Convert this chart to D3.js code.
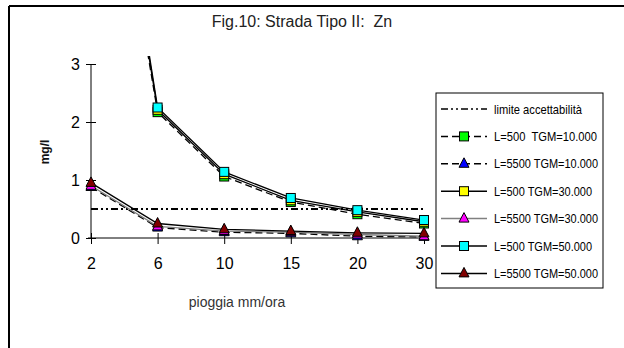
<!DOCTYPE html>
<html>
<head>
<meta charset="utf-8">
<script src="https://cdn.jsdelivr.net/npm/d3@7"></script>
<style>
  body { margin: 0; background: #fff; }
  svg { display: block; }
  text { font-family: "Liberation Sans", Arial, sans-serif; white-space: pre; }
</style>
</head>
<body>
<svg id="chart" width="624" height="348"></svg>
<script>
// rain intensity categories (mm/ora)
var categories = ["2", "6", "10", "15", "20", "30"];
var yTicks = [0, 1, 2, 3];

var limite = [0.5, 0.5, 0.5, 0.5, 0.5, 0.5];
var l500_10 = [9.0, 2.17, 1.06, 0.62, 0.41, 0.25];
var l5500_10 = [0.88, 0.18, 0.10, 0.08, 0.03, 0.02];
var l500_30 = [9.3, 2.21, 1.10, 0.65, 0.45, 0.28];
var l5500_30 = [0.90, 0.20, 0.12, 0.10, 0.06, 0.03];
var l500_50 = [9.5, 2.25, 1.14, 0.69, 0.48, 0.31];
var l5500_50 = [0.95, 0.25, 0.15, 0.12, 0.09, 0.08];

var series = [
  {name: "limite accettabilità", values: limite, dash: "7,3,2,3,2,3", stroke: "#000", marker: null},
  {name: "L=500  TGM=10.000", values: l500_10, dash: "7,4", stroke: "#000", marker: "square", fill: "#00ff00"},
  {name: "L=5500 TGM=10.000", values: l5500_10, dash: "7,4", stroke: "#000", marker: "triangle", fill: "#0000ff"},
  {name: "L=500 TGM=30.000", values: l500_30, dash: null, stroke: "#000", marker: "square", fill: "#ffff00"},
  {name: "L=5500 TGM=30.000", values: l5500_30, dash: null, stroke: "#808080", marker: "triangle", fill: "#ff00ff"},
  {name: "L=500 TGM=50.000", values: l500_50, dash: null, stroke: "#000", marker: "square", fill: "#00ffff"},
  {name: "L=5500 TGM=50.000", values: l5500_50, dash: null, stroke: "#000", marker: "triangle", fill: "#800000"}
];

var svg = d3.select("#chart");

// outer frame (only top and left edges visible)
svg.append("line").attr("x1", 9).attr("x2", 624).attr("y1", 6).attr("y2", 6)
  .attr("stroke", "#000").attr("stroke-width", 2);
svg.append("line").attr("x1", 9).attr("x2", 9).attr("y1", 6).attr("y2", 348)
  .attr("stroke", "#000").attr("stroke-width", 2);

svg.append("text")
  .attr("x", 302).attr("y", 27)
  .attr("text-anchor", "middle")
  .style("font-size", "16px")
  .attr("fill", "#222")
  .text("Fig.10: Strada Tipo II:  Zn");

var x = d3.scalePoint().domain(categories).range([91, 424]);
var y = d3.scaleLinear().domain([0, 3]).range([238, 64]);

svg.append("defs").append("clipPath").attr("id", "plotclip")
  .append("rect").attr("x", 85).attr("y", 56).attr("width", 345).attr("height", 190);

// axes
var yAxis = svg.append("g").attr("transform", "translate(91,0)")
  .call(d3.axisLeft(y).tickValues(yTicks).tickSize(5).tickFormat(d3.format("d")));
yAxis.selectAll(".tick line").attr("x2", 5).attr("x1", -5);
yAxis.select(".domain").attr("d", "M0," + y(3) + "V" + y(0));
yAxis.selectAll("text").attr("x", -11).style("font-size", "16px").attr("fill", "#000");

var xAxis = svg.append("g").attr("transform", "translate(0,238)")
  .call(d3.axisBottom(x).tickSize(5));
xAxis.selectAll(".tick line").attr("y1", -5).attr("y2", 6);
xAxis.select(".domain").attr("d", "M88,0H424");
xAxis.selectAll("text").attr("y", 20).attr("dy", "0.71em").style("font-size", "16px").attr("fill", "#000");

svg.append("text")
  .attr("x", 237).attr("y", 307)
  .attr("text-anchor", "middle")
  .style("font-size", "14px")
  .attr("fill", "#333")
  .text("pioggia mm/ora");

svg.append("text")
  .attr("transform", "translate(49,152) rotate(-90)")
  .attr("text-anchor", "middle")
  .style("font-size", "12px")
  .style("font-weight", "bold")
  .attr("fill", "#111")
  .text("mg/l");

// lines
var line = d3.line()
  .x(function(d, i) { return x(categories[i]); })
  .y(function(d) { return y(d); });

var plot = svg.append("g").attr("clip-path", "url(#plotclip)");

series.forEach(function(s) {
  plot.append("path")
    .datum(s.values)
    .attr("d", line)
    .attr("fill", "none")
    .attr("stroke", s.stroke)
    .attr("stroke-width", s.marker ? 1.3 : 2)
    .attr("stroke-dasharray", s.dash);
});

function drawMarker(g, type, cx, cy, fill) {
  if (type == "square") {
    g.append("rect").attr("x", cx - 4.5).attr("y", cy - 4.5)
      .attr("width", 9).attr("height", 9)
      .attr("fill", fill).attr("stroke", "#000").attr("stroke-width", 1);
  } else if (type == "triangle") {
    g.append("path")
      .attr("d", "M" + cx + "," + (cy - 6) + "L" + (cx + 5) + "," + (cy + 3.5) + "L" + (cx - 5) + "," + (cy + 3.5) + "Z")
      .attr("fill", fill).attr("stroke", "#000").attr("stroke-width", 1);
  }
}

series.forEach(function(s) {
  if (!s.marker) return;
  s.values.forEach(function(v, i) {
    if (v > 3) return;
    drawMarker(plot, s.marker, x(categories[i]), y(v), s.fill);
  });
});

// legend
var legend = svg.append("g");
legend.append("rect")
  .attr("x", 436).attr("y", 93).attr("width", 167).attr("height", 195)
  .attr("fill", "#fff").attr("stroke", "#000").attr("stroke-width", 1);

var legendWidths = [88, 103, 104, 98, 104, 98, 104];
series.forEach(function(s, i) {
  var ly = 109 + i * 27.4;
  legend.append("line")
    .attr("x1", 441).attr("x2", 487).attr("y1", ly).attr("y2", ly)
    .attr("stroke", s.stroke).attr("stroke-width", 1.5)
    .attr("stroke-dasharray", s.dash);
  if (s.marker) drawMarker(legend, s.marker, 464, ly, s.fill);
  legend.append("text")
    .attr("x", 494).attr("y", ly)
    .attr("dy", "0.35em")
    .attr("textLength", legendWidths[i])
    .attr("lengthAdjust", "spacingAndGlyphs")
    .style("font-size", "13px")
    .attr("fill", "#000")
    .text(s.name);
});
</script>
</body>
</html>
